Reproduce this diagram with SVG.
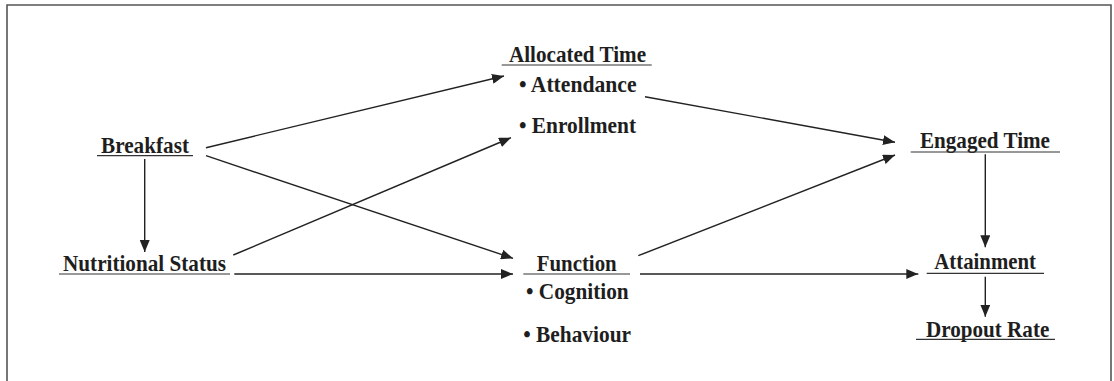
<svg xmlns="http://www.w3.org/2000/svg" width="1114" height="381" viewBox="0 0 1114 381">
  <style>
    .lbl { font-weight: bold; font-size: 22.5px; fill: #1e1e1e; }
    .ul { stroke: #333; stroke-width: 1.2; }
    .edge { stroke: #222; stroke-width: 1.4; fill: none; marker-end: url(#arrow); }
  </style>
  <defs>
    <marker id="arrow" markerUnits="userSpaceOnUse" markerWidth="12" markerHeight="10" refX="12" refY="5" orient="auto">
      <path d="M0,0 L12,5 L0,10 z" fill="#222"/>
    </marker>
  </defs>

  <rect width="1114" height="381" fill="#fff"/>
  <!-- outer frame, open at the bottom -->
  <path d="M7,390 L7,5 L1111,5 L1111,390" fill="none" stroke="#555" stroke-width="1.6"/>

  <g id="connectors">
    <line class="edge" x1="144.7" y1="159" x2="144.7" y2="252"/>
    <line class="edge" x1="206" y1="147.7" x2="504" y2="76"/>
    <line class="edge" x1="206" y1="155.7" x2="513" y2="258.3"/>
    <line class="edge" x1="233.3" y1="255" x2="511" y2="137.7"/>
    <line class="edge" x1="234.3" y1="274" x2="513" y2="274"/>
    <line class="edge" x1="645" y1="96.7" x2="895" y2="142.3"/>
    <line class="edge" x1="638.3" y1="255.7" x2="895" y2="155"/>
    <line class="edge" x1="640" y1="274" x2="918.3" y2="274"/>
    <line class="edge" x1="985.3" y1="154.3" x2="985.3" y2="247.3"/>
    <line class="edge" x1="985.3" y1="276.7" x2="985.3" y2="316.7"/>
  </g>

  <g font-family="Liberation Serif, DejaVu Serif, serif">
    <g id="breakfast">
      <text class="lbl" x="101" y="153.3" textLength="88" lengthAdjust="spacingAndGlyphs">Breakfast</text>
      <line class="ul" x1="97" y1="155.7" x2="193" y2="155.7"/>
    </g>

    <g id="nutritional-status">
      <text class="lbl" x="63" y="271" textLength="163" lengthAdjust="spacingAndGlyphs">Nutritional Status</text>
      <line class="ul" x1="59" y1="274" x2="230" y2="274"/>
    </g>

    <g id="allocated-time">
      <text class="lbl" x="509" y="62.3" textLength="137" lengthAdjust="spacingAndGlyphs">Allocated Time</text>
      <line class="ul" x1="501.7" y1="65" x2="651.7" y2="65"/>
      <text class="lbl" x="519" y="91.7" textLength="117.5" lengthAdjust="spacingAndGlyphs">• Attendance</text>
      <text class="lbl" x="519" y="133.3" textLength="117" lengthAdjust="spacingAndGlyphs">• Enrollment</text>
    </g>

    <g id="function">
      <text class="lbl" x="536.7" y="270.7" textLength="80" lengthAdjust="spacingAndGlyphs">Function</text>
      <line class="ul" x1="523.3" y1="274" x2="630" y2="274"/>
      <text class="lbl" x="526" y="299" textLength="102.7" lengthAdjust="spacingAndGlyphs">• Cognition</text>
      <text class="lbl" x="523.3" y="341.7" textLength="107.7" lengthAdjust="spacingAndGlyphs">• Behaviour</text>
    </g>

    <g id="engaged-time">
      <text class="lbl" x="920" y="148.3" textLength="130" lengthAdjust="spacingAndGlyphs">Engaged Time</text>
      <line class="ul" x1="910.7" y1="152" x2="1060" y2="152"/>
    </g>

    <g id="attainment">
      <text class="lbl" x="934.3" y="269.3" textLength="101.7" lengthAdjust="spacingAndGlyphs">Attainment</text>
      <line class="ul" x1="926.7" y1="273.3" x2="1044" y2="273.3"/>
    </g>

    <g id="dropout-rate">
      <text class="lbl" x="926" y="336.7" textLength="123.3" lengthAdjust="spacingAndGlyphs">Dropout Rate</text>
      <line class="ul" x1="916" y1="339.3" x2="1055" y2="339.3"/>
    </g>
  </g>
</svg>
